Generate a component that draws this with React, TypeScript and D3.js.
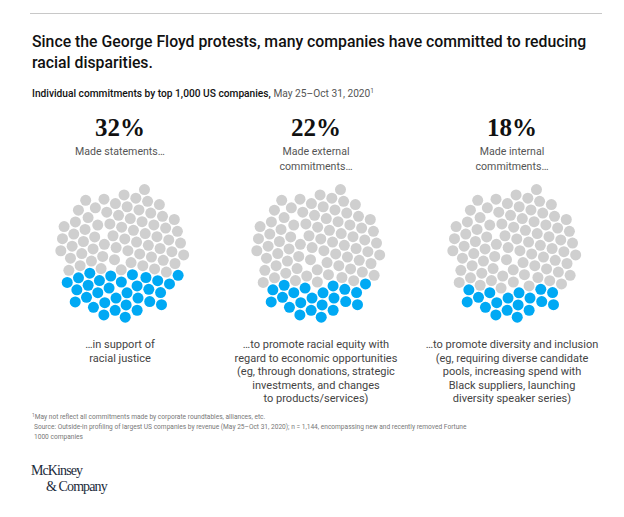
import React from "react";
import * as d3 from "d3";

const TOTAL_DOTS = 100;
const percentages = [32, 22, 18];
const topLabels = [
  ["Made statements…"],
  ["Made external", "commitments…"],
  ["Made internal", "commitments…"],
];
const bottomLabels = [
  ["…in support of", "racial justice"],
  [
    "…to promote racial equity with",
    "regard to economic opportunities",
    "(eg, through donations, strategic",
    "investments, and changes",
    "to products/services)",
  ],
  [
    "…to promote diversity and inclusion",
    "(eg, requiring diverse candidate",
    "pools, increasing spend with",
    "Black suppliers, launching",
    "diversity speaker series)",
  ],
];
const title = [
  "Since the George Floyd protests, many companies have committed to reducing",
  "racial disparities.",
];
const footnotes = [
  "May not reflect all commitments made by corporate roundtables, alliances, etc.",
  "Source: Outside-in profiling of largest US companies by revenue (May 25–Oct 31, 2020); n = 1,144, encompassing new and recently removed Fortune",
  "1000 companies",
];

const GREY = "#cfcfcf";
const BLUE = "#00a9f4";
const SANS = "Roboto, 'Noto Sans', sans-serif";
const SERIF = "'Liberation Serif', 'DejaVu Serif', serif";
const DOT_R = 5.5;
const DOT_SPACING = 6.1;

function makeDots() {
  const nodes: any[] = d3.range(TOTAL_DOTS).map((i) => ({ index: i }));
  const sim = d3
    .forceSimulation(nodes)
    .alphaDecay(0.006)
    .velocityDecay(0.3)
    .force("x", d3.forceX(0).strength(0.06))
    .force("y", d3.forceY(0).strength(0.06))
    .force("collide", d3.forceCollide(DOT_SPACING).strength(1).iterations(8))
    .stop();
  for (let i = 0; i < 1500; i++) sim.tick();
  const enc = d3.packEnclose(nodes.map((n) => ({ x: n.x, y: n.y, r: DOT_R }))) as any;
  return nodes.map((n) => ({ x: n.x - enc.x, y: n.y - enc.y }));
}

export default function App() {
  const W = 624;
  const H = 517;
  const dots = makeDots();
  const colX = d3.scalePoint<number>().domain([0, 1, 2]).range([120, 512]);
  const cy = 252;
  const order = dots.map((c, i) => ({ ...c, i })).sort((a, b) => b.y - a.y);

  return (
    <svg width={W} height={H} style={{ position: "absolute", left: 0, top: 0, background: "#fff" }}>
      <line x1={30} x2={602} y1={13.5} y2={13.5} stroke="#c8c8c8" strokeWidth={1} />
      {title.map((t, i) => (
        <text key={i} x={32} y={47 + i * 21} fontFamily={SANS} fontWeight={500} fontSize={15.8} fill="#111">
          {t}
        </text>
      ))}
      <text x={32} y={97} fontFamily={SANS} fontSize={10.2} fill="#111">
        <tspan fontWeight={500}>Individual commitments by top 1,000 US companies,</tspan>
        <tspan fill="#555"> May 25–Oct 31, 2020</tspan>
        <tspan fill="#555" fontSize={6.5} dy={-4}>1</tspan>
      </text>
      {percentages.map((p, k) => {
        const cx = colX(k)!;
        const blueSet = new Set(order.slice(0, p).map((d) => d.i));
        return (
          <g key={k}>
            <text x={cx} y={136} textAnchor="middle" fontFamily={SERIF} fontWeight={700} fontSize={25} fill="#111">
              {p}%
            </text>
            {topLabels[k].map((t, j) => (
              <text key={j} x={cx} y={155 + j * 15} textAnchor="middle" fontFamily={SANS} fontSize={10.6} fill="#555">
                {t}
              </text>
            ))}
            {dots.map((c, i) => (
              <circle key={i} cx={cx + c.x} cy={cy + c.y} r={DOT_R} fill={blueSet.has(i) ? BLUE : GREY} />
            ))}
            {bottomLabels[k].map((t, j) => (
              <text key={j} x={cx} y={348 + j * 13.6} textAnchor="middle" fontFamily={SANS} fontSize={11} fill="#444">
                {t}
              </text>
            ))}
          </g>
        );
      })}
      <text x={32} y={419} fontFamily={SANS} fontSize={6.6} fill="#777">
        <tspan fontSize={4.8} dy={-2.5}>1</tspan>
        <tspan dy={2.5}>{footnotes[0]}</tspan>
      </text>
      <text x={34} y={429} fontFamily={SANS} fontSize={6.6} fill="#777">{footnotes[1]}</text>
      <text x={34} y={439} fontFamily={SANS} fontSize={6.6} fill="#777">{footnotes[2]}</text>
      <text x={31} y={475} fontFamily={SERIF} fontSize={14} fill="#1b2a3a" letterSpacing={-0.9}>McKinsey</text>
      <text x={46} y={491} fontFamily={SERIF} fontSize={14} fill="#1b2a3a" letterSpacing={-0.9}>&amp; Company</text>
    </svg>
  );
}
